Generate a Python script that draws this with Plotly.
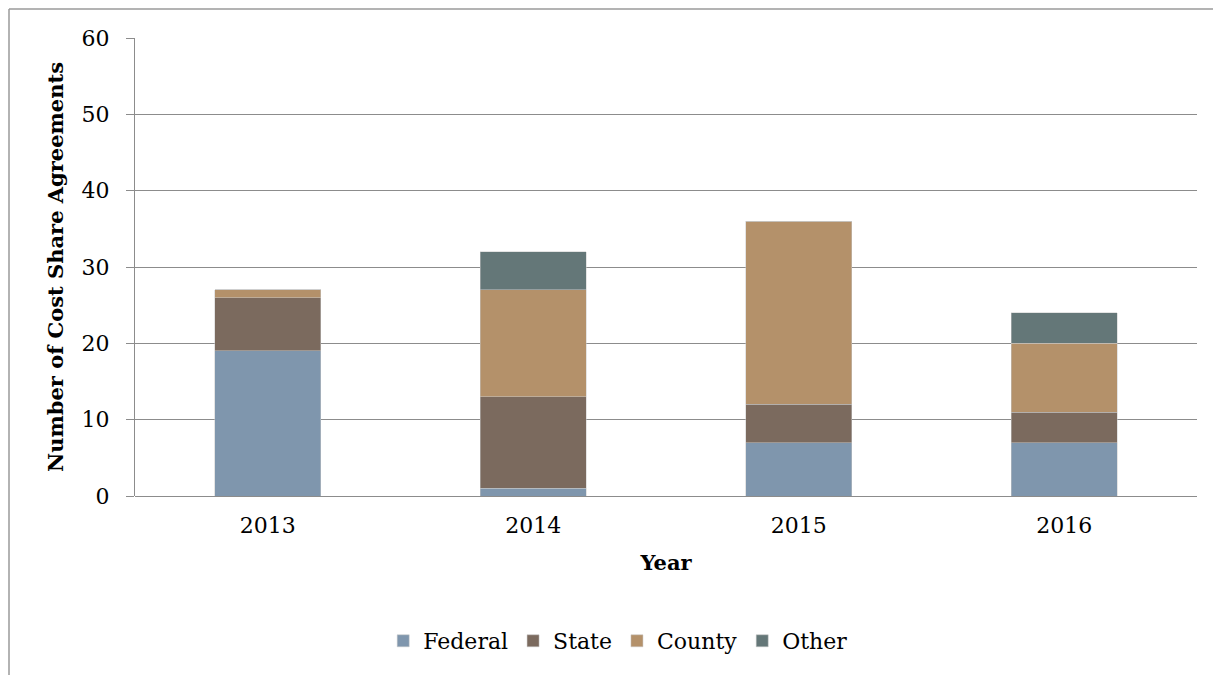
import plotly.graph_objects as go

years = ["2013", "2014", "2015", "2016"]
federal = [19, 1, 7, 7]
state = [7, 12, 5, 4]
county = [1, 14, 24, 9]
other = [0, 5, 0, 4]
y_ticks = [0, 10, 20, 30, 40, 50, 60]

series = [
    ("Federal", federal, "#7F96AD"),
    ("State", state, "#7B6A5E"),
    ("County", county, "#B4916A"),
    ("Other", other, "#647778"),
]

FONT = "DejaVu Serif"
GRID = "#8C8C8C"

# page has an 8px body margin, so the figure is 8px smaller than the window
W, H = 1213, 667
L, R, T, B = 127, 24, 30, 179
PW = W - L - R
PH = H - T - B

fig = go.Figure()
for name, vals, col in series:
    fig.add_trace(go.Bar(
        x=years, y=vals, name=name,
        marker=dict(color=col, line=dict(color="rgba(200,200,200,0.7)", width=0.7)),
    ))

fig.update_layout(
    barmode="stack",
    bargap=0.6,
    width=W, height=H,
    margin=dict(l=L, r=R, t=T, b=B),
    paper_bgcolor="white",
    plot_bgcolor="white",
    font=dict(family=FONT, size=22, color="black"),
    showlegend=True,
    legend=dict(
        orientation="h", traceorder="normal",
        x=0.455, xanchor="center", y=-(633 - (T + PH)) / PH, yanchor="middle",
        font=dict(family=FONT, size=22, color="black"),
        itemwidth=30,
    ),
    xaxis=dict(
        title=dict(text="<b>Year</b>", font=dict(family=FONT, size=21), standoff=18),
        showgrid=False, showline=False, ticks="",
        tickfont=dict(family=FONT, size=22),
        ticklabelstandoff=14,
    ),
    yaxis=dict(
        title=dict(text="<b>Number of Cost Share Agreements</b>", font=dict(family=FONT, size=21), standoff=12),
        range=[0, 60], tickvals=y_ticks,
        showgrid=True, gridcolor=GRID, gridwidth=1.4,
        showline=True, linecolor=GRID, linewidth=1.4,
        ticks="outside", ticklen=8, tickcolor=GRID, tickwidth=1.4,
        zeroline=True, zerolinecolor=GRID, zerolinewidth=1.4,
        tickfont=dict(family=FONT, size=22),
        ticklabelstandoff=12,
    ),
    shapes=[
        dict(type="line", xref="paper", yref="paper",
             x0=-(L - 1) / PW, x1=1.05, y0=1 + (T - 1) / PH, y1=1 + (T - 1) / PH,
             line=dict(color="#9A9A9A", width=1.5)),
        dict(type="line", xref="paper", yref="paper",
             x0=-(L - 1) / PW, x1=-(L - 1) / PW, y0=1 + (T - 1) / PH, y1=-0.5,
             line=dict(color="#9A9A9A", width=1.5)),
    ],
)

fig.write_html("out.html")
